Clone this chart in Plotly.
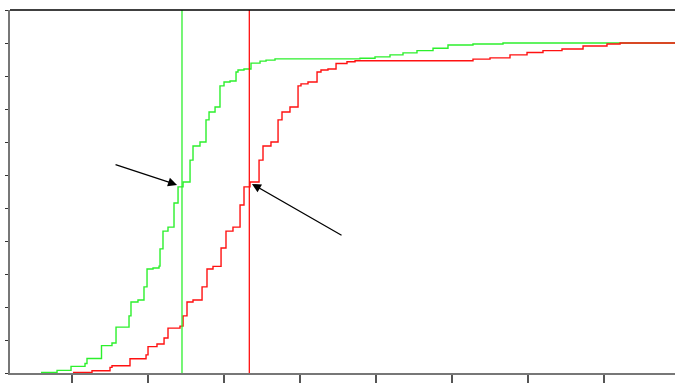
import plotly.graph_objects as go

# Step CDF data (x in axis units with ticks at 1..8, y as cumulative fraction)
green_x = [0.592, 0.803, 0.987, 1.171, 1.197, 1.388, 1.526, 1.579, 1.750, 1.776,
           1.868, 1.947, 1.987, 2.066, 2.145, 2.158, 2.197, 2.263, 2.342, 2.395,
           2.461, 2.553, 2.592, 2.684, 2.763, 2.803, 2.882, 2.947, 3.000, 3.079,
           3.158, 3.184, 3.263, 3.355, 3.474, 3.553, 3.671, 4.789, 4.987, 5.184,
           5.355, 5.539, 5.750, 5.947, 6.276, 6.671, 8.934]
green_y = [0.002, 0.008, 0.020, 0.029, 0.044, 0.083, 0.091, 0.139, 0.173, 0.215,
           0.221, 0.261, 0.315, 0.318, 0.324, 0.376, 0.430, 0.442, 0.515, 0.564,
           0.579, 0.645, 0.688, 0.700, 0.767, 0.791, 0.806, 0.870, 0.882, 0.885,
           0.912, 0.918, 0.921, 0.939, 0.945, 0.948, 0.952, 0.954, 0.958, 0.964,
           0.970, 0.977, 0.984, 0.994, 0.997, 1.000, 1.000]

red_x = [1.013, 1.263, 1.500, 1.526, 1.763, 1.974, 2.000, 2.118, 2.211, 2.263,
         2.421, 2.461, 2.513, 2.592, 2.711, 2.776, 2.855, 2.961, 3.026, 3.118,
         3.211, 3.263, 3.342, 3.461, 3.513, 3.618, 3.711, 3.763, 3.868, 3.974,
         4.013, 4.105, 4.224, 4.276, 4.368, 4.474, 4.618, 4.724, 6.276, 6.500,
         6.763, 6.987, 7.197, 7.447, 7.724, 8.039, 8.211, 8.934]
red_y = [0.002, 0.007, 0.017, 0.022, 0.043, 0.055, 0.080, 0.088, 0.106, 0.136,
         0.142, 0.173, 0.215, 0.221, 0.261, 0.315, 0.323, 0.379, 0.430, 0.442,
         0.509, 0.564, 0.579, 0.645, 0.688, 0.700, 0.767, 0.791, 0.806, 0.870,
         0.876, 0.882, 0.912, 0.918, 0.921, 0.938, 0.943, 0.946, 0.951, 0.955,
         0.964, 0.971, 0.977, 0.982, 0.991, 0.997, 1.000, 1.000]

green_marker_x = 2.447
red_marker_x = 3.333

# arrows: (tail_x, tail_y, head_x, head_y)
arrows = [(1.553, 0.633, 2.382, 0.570),
          (4.566, 0.415, 3.368, 0.573)]

x_range = [0.184, 8.934]
y_range = [0, 1.1]

GREEN = "#2cf02c"
RED = "#ff1111"

fig = go.Figure()
fig.add_trace(go.Scatter(x=green_x, y=green_y, mode="lines",
                         line=dict(shape="hv", color=GREEN, width=1.4),
                         showlegend=False, hoverinfo="skip"))
fig.add_trace(go.Scatter(x=red_x, y=red_y, mode="lines",
                         line=dict(shape="hv", color=RED, width=1.4),
                         showlegend=False, hoverinfo="skip"))

fig.add_shape(type="line", xref="x", yref="paper", x0=green_marker_x, x1=green_marker_x,
              y0=0, y1=1, line=dict(color=GREEN, width=1.3))
fig.add_shape(type="line", xref="x", yref="paper", x0=red_marker_x, x1=red_marker_x,
              y0=0, y1=1, line=dict(color=RED, width=1.3))
# top border
fig.add_shape(type="line", xref="paper", yref="paper", x0=0, x1=1, y0=1, y1=1,
              line=dict(color="black", width=1.5))

for tx, ty, hx, hy in arrows:
    fig.add_annotation(x=hx, y=hy, ax=tx, ay=ty, xref="x", yref="y", axref="x", ayref="y",
                       text="", showarrow=True, arrowhead=2, arrowsize=1.5,
                       arrowwidth=1.2, arrowcolor="black", standoff=0)

fig.update_layout(
    width=675, height=383,
    margin=dict(l=10, r=0, t=10, b=10),
    paper_bgcolor="white", plot_bgcolor="white",
    xaxis=dict(range=x_range, showgrid=False, zeroline=False, showticklabels=False,
               tick0=1, dtick=1, ticks="outside", ticklen=10, tickwidth=1.5,
               tickcolor="#555555", showline=True, linecolor="#777777", linewidth=1.5),
    yaxis=dict(range=y_range, showgrid=False, zeroline=False, showticklabels=False,
               tick0=0, dtick=0.1, ticks="outside", ticklen=3, tickwidth=1.2,
               tickcolor="#333333", showline=True, linecolor="#777777", linewidth=1.5),
)

fig.write_html(
    "out.html",
    config={"responsive": False, "displayModeBar": False},
    post_script="document.body.style.margin='0';document.documentElement.style.overflow='hidden';",
)
